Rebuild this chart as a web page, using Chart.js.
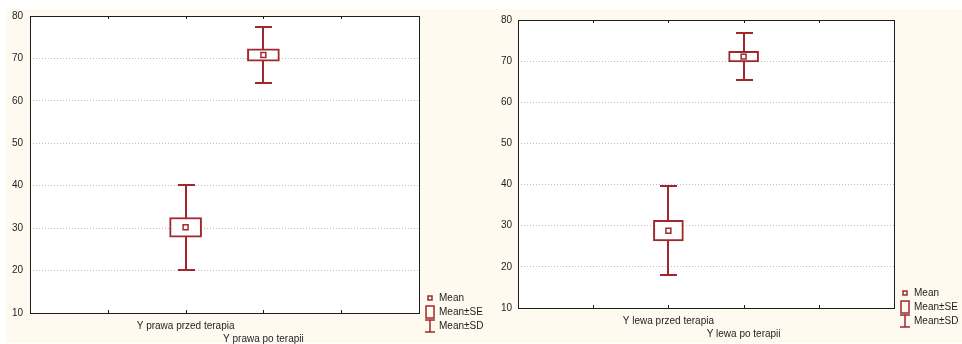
<!DOCTYPE html>
<html>
<head>
<meta charset="utf-8">
<script src="https://cdn.jsdelivr.net/npm/chart.js@4/dist/chart.umd.min.js"></script>
<style>
  html, body { margin: 0; padding: 0; background: #fff; }
  #page { position: relative; width: 962px; height: 344px; overflow: hidden; }
  #paper { position: absolute; left: 6px; top: 9px; right: 0; bottom: 1px; background: #fffaef; }
  canvas { position: absolute; top: 0; }
  #prawa { left: 0; }
  #lewa { left: 481px; }
</style>
</head>
<body>
<div id="page">
  <div id="paper"></div>
  <canvas id="prawa" width="500" height="344"></canvas>
  <canvas id="lewa" width="481" height="344"></canvas>
</div>
<script>
// categories sit at x = 2 and 3 on a 0..5 axis
var categoryPos = [2, 3];

var prawaLabels = ['Y prawa przed terapia', 'Y prawa po terapii'];
var prawaMean = [30.2, 70.8];
var prawaSE = [2.3, 1.45];
var prawaSD = [10.0, 6.7];

var lewaLabels = ['Y lewa przed terapia', 'Y lewa po terapii'];
var lewaMean = [28.8, 71.1];
var lewaSE = [2.5, 1.3];
var lewaSD = [10.8, 5.7];

var yMin = 10, yMax = 80, yStep = 10;
var legendLabels = ['Mean', 'Mean\u00b1SE', 'Mean\u00b1SD'];

var RED = '#a0282c';
var INK = '#1e1e1e';
var FONT = { family: '"Liberation Sans", Arial, sans-serif', size: 10 };

var boxPlot = {
  id: 'boxPlot',
  beforeDraw: function(chart) {
    var a = chart.chartArea, ctx = chart.ctx;
    ctx.save();
    ctx.fillStyle = '#fff';
    ctx.fillRect(a.left, a.top, a.right - a.left, a.bottom - a.top);
    ctx.restore();
  },
  beforeDatasetsDraw: function(chart, args, opts) {
    var x = chart.scales.x, y = chart.scales.y, ctx = chart.ctx;
    ctx.save();
    ctx.strokeStyle = RED;
    ctx.lineWidth = 2;
    opts.mean.forEach(function(m, i) {
      var px = Math.round(x.getPixelForValue(categoryPos[i]));
      var top = Math.round(y.getPixelForValue(m + opts.sd[i]));
      var bot = Math.round(y.getPixelForValue(m - opts.sd[i]));
      ctx.beginPath();
      ctx.moveTo(px, top); ctx.lineTo(px, bot);
      ctx.moveTo(px - 8, top); ctx.lineTo(px + 9, top);
      ctx.moveTo(px - 8, bot); ctx.lineTo(px + 9, bot);
      ctx.stroke();
    });
    ctx.restore();
  },
  afterDraw: function(chart) {
    var a = chart.chartArea, ctx = chart.ctx, x = chart.scales.x;
    ctx.save();
    // frame + small inward ticks
    ctx.strokeStyle = INK;
    ctx.lineWidth = 1;
    ctx.strokeRect(Math.round(a.left) + 0.5, Math.round(a.top) + 0.5,
      Math.round(a.right - a.left), Math.round(a.bottom - a.top));
    ctx.beginPath();
    for (var v = 1; v <= 4; v++) {
      var px = Math.round(x.getPixelForValue(v)) + 0.5;
      ctx.moveTo(px, a.top); ctx.lineTo(px, a.top + 3);
      ctx.moveTo(px, a.bottom); ctx.lineTo(px, a.bottom - 3);
    }
    ctx.stroke();

    // legend
    var lx = Math.round(a.right) + 11;
    var tx = Math.round(a.right) + 20;
    var ys = [a.bottom - 15, a.bottom - 1, a.bottom + 13];
    ctx.strokeStyle = RED;
    ctx.lineWidth = 1.5;
    ctx.strokeRect(lx - 2, ys[0] - 2, 4, 4);
    ctx.strokeRect(lx - 4, ys[1] - 6, 8, 12);
    ctx.beginPath();
    ctx.moveTo(lx, ys[2] - 6); ctx.lineTo(lx, ys[2] + 6);
    ctx.moveTo(lx - 5, ys[2] - 6); ctx.lineTo(lx + 5, ys[2] - 6);
    ctx.moveTo(lx - 5, ys[2] + 6); ctx.lineTo(lx + 5, ys[2] + 6);
    ctx.stroke();
    ctx.fillStyle = INK;
    ctx.font = FONT.size + 'px ' + FONT.family;
    ctx.textBaseline = 'middle';
    legendLabels.forEach(function(t, i) { ctx.fillText(t, tx, ys[i]); });
    ctx.restore();
  }
};

function makePanel(canvasId, labels, mean, se, sd, box) {
  var meanPoints = categoryPos.map(function(p, i) { return { x: p, y: mean[i] }; });
  var seBars = categoryPos.map(function(p, i) { return { x: p, y: [mean[i] - se[i], mean[i] + se[i]] }; });

  return new Chart(document.getElementById(canvasId), {
    type: 'bar',
    data: {
      datasets: [
        {
          type: 'line',
          data: meanPoints,
          showLine: false,
          pointStyle: 'rect',
          pointRadius: 3.5,
          pointBorderWidth: 1.5,
          pointBorderColor: RED,
          pointBackgroundColor: '#fff'
        },
        {
          data: seBars,
          barThickness: box.barWidth,
          backgroundColor: '#fff',
          borderColor: RED,
          borderWidth: 2,
          borderSkipped: false
        }
      ]
    },
    options: {
      responsive: false,
      animation: false,
      devicePixelRatio: 1,
      layout: { padding: { left: 0, top: box.top, right: box.right, bottom: 0 } },
      plugins: {
        legend: { display: false },
        tooltip: { enabled: false },
        boxPlot: { mean: mean, sd: sd }
      },
      scales: {
        x: {
          type: 'linear',
          min: 0,
          max: 5,
          offset: false,
          grid: { display: false, drawTicks: false, offset: false },
          border: { display: false },
          afterFit: function(s) { s.height = box.xHeight; },
          ticks: {
            stepSize: 1,
            autoSkip: false,
            maxRotation: 0,
            padding: 6,
            color: INK,
            font: Object.assign({ lineHeight: 1.35 }, FONT),
            callback: function(v) {
              var i = categoryPos.indexOf(v);
              if (i === 0) return labels[0];
              if (i === 1) return ['', labels[1]];
              return '';
            }
          }
        },
        y: {
          min: yMin,
          max: yMax,
          grid: {
            drawTicks: false,
            color: function(c) {
              var v = c.tick && c.tick.value;
              return (v === yMin || v === yMax) ? 'rgba(0,0,0,0)' : '#c0c0c0';
            }
          },
          border: { display: false, dash: [1, 2] },
          afterFit: function(s) { s.width = box.yWidth; },
          ticks: { stepSize: yStep, padding: box.yPad, color: INK, font: FONT }
        }
      }
    },
    plugins: [boxPlot]
  });
}

makePanel('prawa', prawaLabels, prawaMean, prawaSE, prawaSD,
  { top: 16, right: 81, xHeight: 31, yWidth: 30, yPad: 7, barWidth: 32 });
makePanel('lewa', lewaLabels, lewaMean, lewaSE, lewaSD,
  { top: 20, right: 68, xHeight: 36, yWidth: 37, yPad: 6, barWidth: 30 });
</script>
</body>
</html>
